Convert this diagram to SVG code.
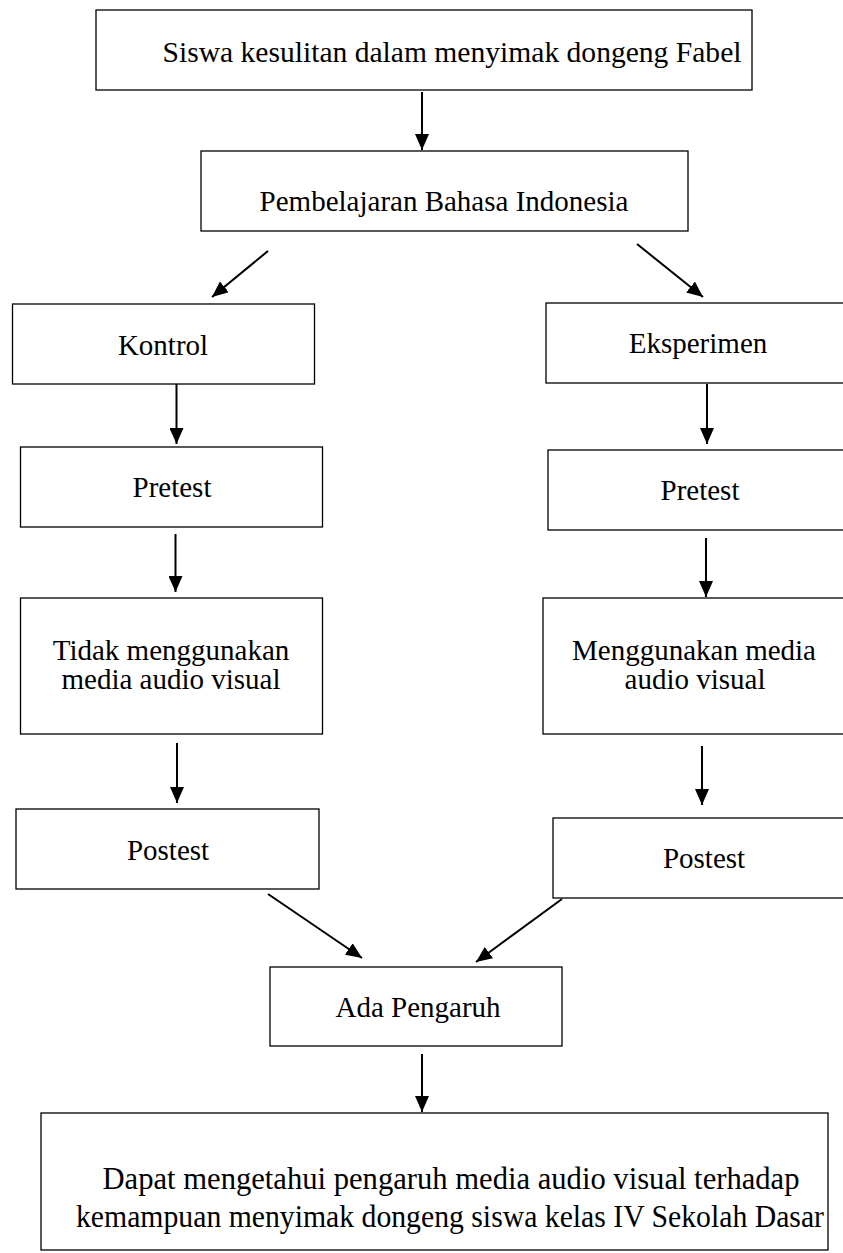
<svg xmlns="http://www.w3.org/2000/svg" width="843" height="1253" viewBox="0 0 843 1253">
<style>
.box{fill:#fff;stroke:#000;stroke-width:1.3}
.t{font-family:"Liberation Serif","Times New Roman",serif;font-size:29px;fill:#000;text-anchor:middle}
.big{font-size:31px}
.c{stroke:#000;stroke-width:2;fill:none}
</style>
<defs>
<marker id="ah" markerUnits="userSpaceOnUse" markerWidth="16" markerHeight="14" refX="16" refY="7" orient="auto">
<path d="M0,0 L16,7 L0,14 Z" fill="#000"/>
</marker>
</defs>
<rect width="843" height="1253" fill="#fff"/>
<g id="n1"><rect class="box" x="96" y="10" width="656" height="80"/><text class="t" x="452" y="62" textLength="579" lengthAdjust="spacingAndGlyphs">Siswa kesulitan dalam menyimak dongeng Fabel</text></g>
<g id="n2"><rect class="box" x="201" y="151" width="487" height="80"/><text class="t" x="444" y="211">Pembelajaran Bahasa Indonesia</text></g>
<g id="n3"><rect class="box" x="12.5" y="304" width="302" height="80"/><text class="t" x="163" y="355">Kontrol</text></g>
<g id="n4"><rect class="box" x="546" y="303" width="310" height="80"/><text class="t" x="698" y="353">Eksperimen</text></g>
<g id="n5"><rect class="box" x="20.5" y="447" width="302" height="80"/><text class="t" x="172" y="497">Pretest</text></g>
<g id="n6"><rect class="box" x="548" y="450" width="310" height="80"/><text class="t" x="700" y="500">Pretest</text></g>
<g id="n7"><rect class="box" x="20.5" y="598" width="302" height="136"/><text class="t" x="171" y="660">Tidak menggunakan</text><text class="t" x="171" y="689">media audio visual</text></g>
<g id="n8"><rect class="box" x="543" y="598" width="310" height="136"/><text class="t" x="694" y="660">Menggunakan media</text><text class="t" x="695" y="689">audio visual</text></g>
<g id="n9"><rect class="box" x="16" y="809" width="303" height="80"/><text class="t" x="168" y="860">Postest</text></g>
<g id="n10"><rect class="box" x="553" y="818" width="310" height="80"/><text class="t" x="704" y="868">Postest</text></g>
<g id="n11"><rect class="box" x="270" y="967" width="292" height="79"/><text class="t" x="418" y="1017">Ada Pengaruh</text></g>
<g id="n12"><rect class="box" x="41" y="1113" width="787" height="137"/><text class="t big" x="451" y="1189" textLength="697" lengthAdjust="spacingAndGlyphs">Dapat mengetahui pengaruh media audio visual terhadap</text><text class="t big" x="450" y="1227" textLength="748" lengthAdjust="spacingAndGlyphs">kemampuan menyimak dongeng siswa kelas IV Sekolah Dasar</text></g>
<g id="connectors">
<line class="c" x1="422" y1="92" x2="422" y2="150" marker-end="url(#ah)"/>
<line class="c" x1="268" y1="251" x2="212" y2="297" marker-end="url(#ah)"/>
<line class="c" x1="637" y1="244" x2="703" y2="297" marker-end="url(#ah)"/>
<line class="c" x1="176.5" y1="384" x2="176.5" y2="444" marker-end="url(#ah)"/>
<line class="c" x1="707" y1="384" x2="707" y2="444" marker-end="url(#ah)"/>
<line class="c" x1="175.5" y1="534" x2="175.5" y2="592" marker-end="url(#ah)"/>
<line class="c" x1="706" y1="538" x2="706" y2="597" marker-end="url(#ah)"/>
<line class="c" x1="177" y1="743" x2="177" y2="803" marker-end="url(#ah)"/>
<line class="c" x1="702" y1="746" x2="702" y2="805" marker-end="url(#ah)"/>
<line class="c" x1="268" y1="894" x2="362" y2="958" marker-end="url(#ah)"/>
<line class="c" x1="562" y1="899" x2="476" y2="962" marker-end="url(#ah)"/>
<line class="c" x1="422" y1="1054" x2="422" y2="1112" marker-end="url(#ah)"/>
</g>
</svg>
